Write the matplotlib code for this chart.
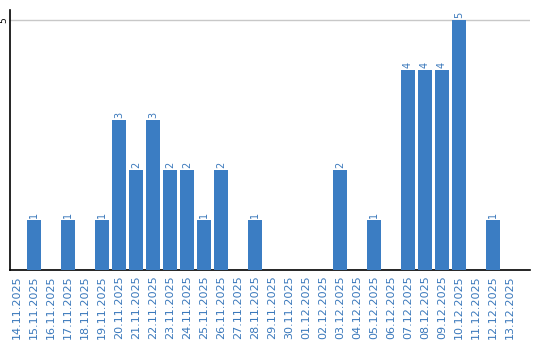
import matplotlib
matplotlib.use("Agg")
import matplotlib.pyplot as plt

dates = ["14.11.2025", "15.11.2025", "16.11.2025", "17.11.2025", "18.11.2025",
         "19.11.2025", "20.11.2025", "21.11.2025", "22.11.2025", "23.11.2025",
         "24.11.2025", "25.11.2025", "26.11.2025", "27.11.2025", "28.11.2025",
         "29.11.2025", "30.11.2025", "01.12.2025", "02.12.2025", "03.12.2025",
         "04.12.2025", "05.12.2025", "06.12.2025", "07.12.2025", "08.12.2025",
         "09.12.2025", "10.12.2025", "11.12.2025", "12.12.2025", "13.12.2025"]
counts = [0, 1, 0, 1, 0, 1, 3, 2, 3, 2, 2, 1, 2, 0, 1, 0, 0, 0, 0, 2,
          0, 1, 0, 4, 4, 4, 5, 0, 1, 0]
yticks = [5]

bar_color = "#3b7dc3"
label_color = "#3a78bb"

fig = plt.figure(figsize=(5.4, 3.4), dpi=100)
ax = fig.add_axes([10/540, 1 - 270/340, 520/540, 260/340])

x = list(range(len(dates)))
ax.bar(x, counts, width=0.82, color=bar_color, zorder=3)
for xi, v in zip(x, counts):
    if v > 0:
        ax.text(xi, v + 0.04, str(v), rotation=90, ha="center", va="bottom",
                fontsize=7, color=label_color, zorder=4)

ax.set_xlim(-0.41, 30.18)
ax.set_ylim(0, 5.2)
ax.set_yticks(yticks)
ax.set_yticklabels([str(t) for t in yticks], rotation=90, va="center", fontsize=6.5)
ax.yaxis.grid(True, color="#c8c8c8", linewidth=1, zorder=0)
ax.set_xticks(x)
ax.set_xticklabels(dates, rotation=90, fontsize=8, color=label_color)
ax.tick_params(axis="x", length=0, pad=4)
ax.tick_params(axis="y", length=0, pad=1)

for s in ["top", "right"]:
    ax.spines[s].set_visible(False)
for s in ["left", "bottom"]:
    ax.spines[s].set_color("black")
    ax.spines[s].set_linewidth(1.2)

fig.savefig("out.png", dpi=100)
